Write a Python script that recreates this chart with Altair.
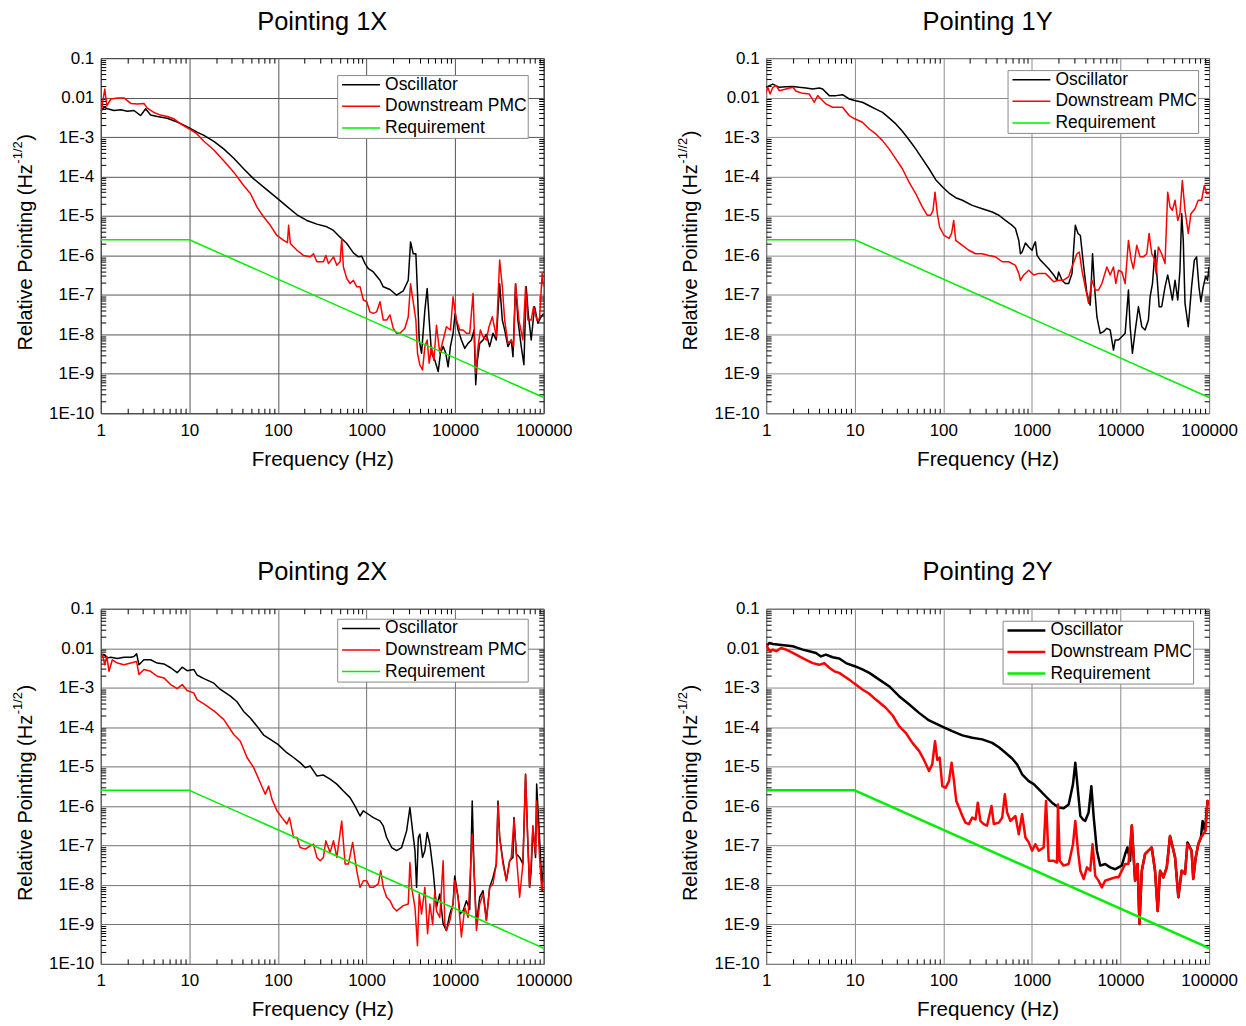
import altair as alt
import pandas as pd

FONT = "Liberation Sans"
SERIES = ["Oscillator", "Downstream PMC", "Requirement"]
COLORS = ["#000000", "#ff0000", "#00ee00"]

# ---------------- data (frequency in Hz, relative pointing in Hz^-1/2) ----------------
p1x_osc_f = [1.0, 1.09, 1.19, 1.41, 1.68, 2.0, 2.37, 2.82, 3.21, 3.65, 4.34, 5.63, 7.29, 8.67, 10, 12.2, 14.6, 18.9, 24.4, 31.7, 41.0, 53.2, 69.0, 100, 126, 164, 212, 275, 356, 424, 503, 598, 711, 809, 883, 962, 1049, 1194, 1419, 1546, 1840, 2186, 2600, 2958, 3141, 3365, 3606, 3764, 3933, 4180, 4557, 4838, 5097, 5415, 5905, 6440, 6833, 7327, 7852, 8334, 8850, 9484, 10000, 10810, 11780, 12850, 14000, 15270, 16370, 17090, 17690, 18950, 20660, 22540, 24550, 26770, 29180, 31830, 34110, 36250, 39500, 43070, 44990, 48140, 51150, 55800, 59790, 63480, 66880, 72270, 78880, 85960, 93700, 100000]
p1x_osc_v = [4.5e-3, 5.7e-3, 5.2e-3, 4.7e-3, 4.9e-3, 4.5e-3, 4.7e-3, 3.5e-3, 5.2e-3, 3.6e-3, 3.3e-3, 3.0e-3, 2.4e-3, 2.0e-3, 1.7e-3, 1.33e-3, 1.1e-3, 7.8e-4, 5.0e-4, 2.9e-4, 1.57e-4, 8.7e-5, 5.4e-5, 2.7e-5, 1.75e-5, 1.07e-5, 7.7e-6, 6.2e-6, 5.3e-6, 4.3e-6, 2.9e-6, 2.0e-6, 1.16e-6, 9.2e-7, 9.5e-7, 6.2e-7, 4.6e-7, 3.8e-7, 2.35e-7, 1.6e-7, 1.37e-7, 9.8e-8, 1.26e-7, 2.35e-7, 2.2e-6, 1.1e-6, 1.1e-6, 1.1e-7, 7.2e-9, 3.3e-9, 4.1e-8, 1.45e-7, 2.3e-8, 3.3e-9, 2.2e-9, 1.14e-9, 3.3e-9, 4.9e-9, 3.3e-9, 1.5e-9, 4.9e-9, 1.06e-8, 3.4e-8, 1.3e-8, 7.2e-9, 4.4e-9, 5.9e-9, 7.2e-9, 1.3e-8, 5.3e-10, 1.85e-9, 5.9e-9, 7.2e-9, 1.0e-8, 4.9e-9, 1.06e-8, 7.2e-9, 1.9e-7, 2.3e-8, 1.3e-8, 4.9e-9, 7.2e-9, 2.7e-9, 1.9e-7, 2.3e-8, 4.9e-9, 1.7e-9, 1.6e-7, 3.4e-8, 7.2e-9, 5.0e-8, 1.9e-8, 2.8e-8, 3.4e-8]

p1x_pmc_f = [1.0, 1.044, 1.11, 1.17, 1.30, 1.54, 1.83, 2.18, 2.59, 3.07, 3.35, 3.98, 4.73, 5.63, 6.69, 7.96, 10, 12.2, 14.6, 18.9, 24.4, 31.7, 41.0, 48.8, 58.0, 69.0, 82.0, 97.4, 116, 128, 132, 138, 164, 194, 231, 252, 275, 326, 347, 372, 424, 462, 503, 525, 548, 598, 652, 711, 775, 845, 921, 1005, 1094, 1194, 1300, 1419, 1546, 1687, 1840, 2004, 2186, 2383, 2712, 2958, 3141, 3365, 3606, 3764, 4000, 4287, 4557, 4838, 5097, 5415, 5755, 6166, 6715, 7327, 7980, 8850, 9484, 10350, 11290, 12300, 13420, 14620, 15950, 17090, 18150, 19280, 20660, 22540, 24150, 26310, 29180, 31830, 34110, 36250, 39500, 43070, 45730, 48140, 52510, 58240, 62420, 66300, 72270, 76850, 83780, 89740, 96150, 100000]
p1x_pmc_v = [3.5e-3, 6.9e-3, 1.65e-2, 6.2e-3, 9.2e-3, 9.8e-3, 9.8e-3, 7.1e-3, 6.9e-3, 7.1e-3, 5.4e-3, 4.2e-3, 3.6e-3, 3.3e-3, 2.9e-3, 2.15e-3, 1.6e-3, 1.2e-3, 7.8e-4, 4.7e-4, 2.5e-4, 1.29e-4, 5.9e-5, 3.7e-5, 1.68e-5, 9.4e-6, 5.8e-6, 3.2e-6, 2.4e-6, 2.1e-6, 5.8e-6, 2.0e-6, 1.35e-6, 1.0e-6, 9.2e-7, 1.1e-6, 6.9e-7, 6.9e-7, 1.0e-6, 6.2e-7, 9.2e-7, 5.6e-7, 6.9e-7, 2.7e-6, 5.1e-7, 2.6e-7, 1.94e-7, 2.35e-7, 1.6e-7, 1.6e-7, 7.4e-8, 6.7e-8, 3.7e-8, 3.4e-8, 3.7e-8, 6.7e-8, 2.3e-8, 2.3e-8, 3.1e-8, 1.42e-8, 1.06e-8, 1.06e-8, 1.42e-8, 2.8e-8, 1.9e-7, 6.7e-8, 2.3e-8, 3.3e-9, 1.67e-9, 1.25e-9, 4.9e-9, 7.2e-9, 1.85e-9, 4.9e-9, 2.2e-9, 1.7e-8, 3.3e-9, 7.2e-9, 1.56e-8, 1.29e-8, 8.9e-8, 2.3e-8, 1.29e-8, 1.29e-8, 1.06e-8, 1.06e-8, 1.08e-7, 1.03e-9, 4.9e-9, 1.29e-8, 8.7e-9, 7.2e-9, 1.56e-8, 2.8e-8, 8.7e-9, 7.6e-7, 1.6e-7, 2.3e-8, 5.9e-9, 7.2e-9, 4.9e-9, 1.9e-7, 2.3e-8, 7.2e-9, 1.6e-7, 2.3e-8, 2.3e-8, 5.0e-8, 2.3e-8, 2.5e-8, 3.5e-7, 1.6e-7]

p1y_osc_f = [1.0, 1.09, 1.19, 1.41, 1.68, 2.0, 2.37, 2.82, 3.35, 3.98, 4.34, 5.16, 6.14, 7.29, 8.67, 10, 12.2, 14.6, 17.3, 20.6, 24.4, 29.1, 34.5, 41.0, 48.8, 58.0, 69.0, 82.0, 100, 116, 138, 164, 212, 275, 356, 424, 503, 598, 652, 711, 742, 775, 845, 921, 1005, 1049, 1094, 1143, 1246, 1359, 1546, 1763, 1922, 2004, 2186, 2383, 2600, 2835, 3090, 3312, 3524, 3845, 4180, 4557, 4838, 5097, 5415, 5905, 6440, 7015, 7650, 8334, 8720, 9484, 10350, 11290, 12300, 12850, 13640, 14620, 15950, 17400, 18950, 20660, 21600, 22960, 24550, 25700, 27320, 29180, 31830, 34110, 36250, 38540, 41320, 44290, 46900, 49090, 51150, 53500, 58240, 63480, 68200, 72270, 76850, 80900, 85960, 91300, 96150, 100000]
p1y_osc_v = [1.82e-2, 2.0e-2, 2.2e-2, 1.82e-2, 1.88e-2, 1.92e-2, 1.82e-2, 1.75e-2, 1.65e-2, 1.75e-2, 1.65e-2, 1.12e-2, 1.12e-2, 1.18e-2, 9.2e-3, 8.4e-3, 7.6e-3, 6.2e-3, 5.1e-3, 4.2e-3, 3.05e-3, 2.15e-3, 1.4e-3, 8.5e-4, 5.0e-4, 2.8e-4, 1.57e-4, 8.3e-5, 5.2e-5, 3.8e-5, 2.9e-5, 2.5e-5, 1.85e-5, 1.53e-5, 1.26e-5, 1.04e-5, 7.7e-6, 5.8e-6, 4.8e-6, 2.4e-6, 1.1e-6, 1.22e-6, 2.07e-6, 1.64e-6, 1.35e-6, 1.8e-6, 2.2e-6, 1.0e-6, 7.6e-7, 6.2e-7, 4.6e-7, 3.2e-7, 2.35e-7, 3.8e-7, 2.35e-7, 1.94e-7, 1.94e-7, 3.5e-7, 5.8e-6, 3.6e-6, 3.2e-6, 5.1e-7, 1.08e-7, 5.5e-8, 1.1e-6, 1.6e-7, 2.8e-8, 1.06e-8, 1.17e-8, 1.42e-8, 1.29e-8, 4.0e-9, 7.2e-9, 7.2e-9, 8.7e-9, 1.06e-8, 1.32e-7, 1.56e-8, 3.3e-9, 1.17e-8, 5.0e-8, 1.56e-8, 1.29e-8, 2.3e-8, 8.9e-8, 1.94e-7, 1.35e-6, 3.5e-7, 5.0e-8, 5.0e-8, 1.6e-7, 3.2e-7, 1.6e-7, 7.4e-8, 2.35e-7, 7.4e-8, 4.2e-7, 1.14e-5, 2.4e-6, 6.1e-8, 1.56e-8, 1.6e-7, 7.6e-7, 9.2e-7, 1.6e-7, 6.7e-8, 1.6e-7, 2.9e-7, 2.35e-7, 5.1e-7]

p1y_pmc_f = [1.0, 1.044, 1.11, 1.19, 1.30, 1.41, 1.68, 2.0, 2.18, 2.59, 3.07, 3.50, 3.82, 4.16, 4.73, 5.63, 7.29, 8.67, 10, 12.2, 14.6, 17.3, 20.6, 24.4, 29.1, 34.5, 41.0, 48.8, 58.0, 66.0, 72.0, 76.5, 80.6, 85.5, 90.9, 102, 116, 124, 131, 138, 164, 194, 231, 275, 326, 388, 462, 548, 652, 711, 742, 809, 921, 1049, 1194, 1419, 1546, 1763, 2004, 2280, 2600, 2835, 3222, 3427, 3672, 4000, 4365, 4757, 5190, 5650, 6166, 7015, 7650, 8334, 8850, 9484, 10350, 11290, 12300, 13200, 14000, 15270, 16640, 18150, 19780, 21040, 22540, 24150, 25200, 26770, 29180, 31830, 34110, 36250, 38540, 41320, 44290, 46900, 49900, 53500, 58240, 62420, 69300, 75500, 82400, 88300, 93700, 100000]
p1y_pmc_v = [1.36e-2, 1.82e-2, 1.23e-2, 1.82e-2, 2.0e-2, 1.49e-2, 1.65e-2, 1.82e-2, 1.44e-2, 1.28e-2, 1.23e-2, 7.6e-3, 1.12e-2, 9.2e-3, 6.9e-3, 5.7e-3, 5.7e-3, 3.5e-3, 2.9e-3, 2.37e-3, 1.6e-3, 1.2e-3, 8.1e-4, 5.0e-4, 2.8e-4, 1.57e-4, 7.2e-5, 3.7e-5, 1.68e-5, 1.04e-5, 1.04e-5, 1.39e-5, 4.0e-5, 1.14e-5, 5.2e-6, 3.2e-6, 2.7e-6, 3.6e-6, 7.7e-6, 2.4e-6, 1.8e-6, 1.35e-6, 1.1e-6, 1.1e-6, 1.0e-6, 9.2e-7, 6.9e-7, 6.9e-7, 5.6e-7, 3.5e-7, 2.35e-7, 3.2e-7, 4.2e-7, 3.2e-7, 3.5e-7, 3.5e-7, 2.9e-7, 2.14e-7, 2.35e-7, 2.35e-7, 2.9e-7, 5.1e-7, 1.1e-6, 1.22e-6, 4.2e-7, 1.6e-7, 6.1e-8, 2.35e-7, 1.32e-7, 1.32e-7, 1.94e-7, 5.1e-7, 3.2e-7, 5.1e-7, 1.94e-7, 4.2e-7, 3.8e-7, 1.94e-7, 2.4e-6, 7.6e-7, 4.6e-7, 1.8e-6, 9.2e-7, 9.2e-7, 1.1e-6, 3.6e-6, 1.1e-6, 8.3e-7, 3.5e-7, 1.64e-6, 1.1e-6, 6.2e-7, 4.0e-5, 1.68e-5, 1.39e-5, 2.5e-5, 7.7e-6, 1.14e-5, 7.9e-5, 1.39e-5, 3.6e-6, 1.14e-5, 1.53e-5, 2.5e-5, 2.5e-5, 5.9e-5, 3.7e-5, 3.7e-5]

p2x_osc_f = [1.0, 1.09, 1.19, 1.30, 1.54, 1.83, 2.18, 2.37, 2.54, 2.70, 3.07, 3.65, 4.34, 5.16, 6.14, 7.29, 8.3, 9.43, 11.2, 12.2, 14.6, 18.9, 22.4, 29.1, 34.5, 41.0, 48.8, 58.0, 69.0, 82.0, 100, 126, 150, 178, 204, 231, 275, 326, 388, 462, 548, 652, 742, 845, 921, 1049, 1194, 1419, 1546, 1687, 1922, 2186, 2490, 2835, 3090, 3312, 3524, 3672, 3845, 4000, 4287, 4557, 4838, 5190, 5650, 6166, 6715, 7327, 7980, 8720, 9484, 9900, 10810, 11350, 12300, 13420, 14620, 15600, 16370, 17400, 18950, 20660, 22540, 24550, 26770, 29180, 30500, 31830, 34700, 37900, 41320, 44990, 46200, 49090, 53500, 58240, 62420, 66300, 69300, 72270, 75500, 80900, 83300, 89740, 96150, 100000]
p2x_osc_v = [6.9e-3, 6.9e-3, 5.7e-3, 5.9e-3, 5.5e-3, 5.9e-3, 5.9e-3, 6.2e-3, 7.2e-3, 3.8e-3, 5.1e-3, 5.1e-3, 4.2e-3, 4.0e-3, 3.2e-3, 2.4e-3, 3.3e-3, 2.7e-3, 2.9e-3, 2.1e-3, 1.7e-3, 1.3e-3, 9.0e-4, 6.1e-4, 4.4e-4, 2.5e-4, 1.7e-4, 1.06e-4, 6.3e-5, 4.9e-5, 3.65e-5, 2.25e-5, 1.7e-5, 1.26e-5, 9.4e-6, 1.04e-5, 5.8e-6, 6.1e-6, 4.8e-6, 3.6e-6, 2.4e-6, 1.64e-6, 1.0e-6, 5.6e-7, 7.6e-7, 6.2e-7, 5.1e-7, 4.2e-7, 3.15e-7, 1.6e-7, 8.9e-8, 7.4e-8, 8.9e-8, 2.35e-7, 9.2e-7, 2.35e-7, 7.4e-8, 8.7e-9, 1.6e-7, 1.94e-7, 5.0e-8, 7.4e-8, 2.14e-7, 1.08e-7, 2.3e-8, 2.7e-9, 5.9e-9, 1.03e-9, 7.0e-10, 1.85e-9, 3.3e-9, 1.7e-8, 4.9e-9, 1.85e-9, 2.2e-9, 4.0e-9, 2.4e-9, 1.35e-6, 2.3e-8, 1.03e-9, 4.9e-9, 7.2e-9, 1.3e-9, 8.7e-9, 1.56e-8, 3.4e-8, 1.35e-6, 1.6e-7, 4.1e-8, 1.29e-8, 4.1e-8, 5.0e-8, 5.1e-7, 6.1e-8, 5.0e-8, 3.4e-8, 6.4e-6, 1.08e-7, 8.7e-9, 2.3e-8, 2.9e-7, 5.0e-8, 3.6e-6, 1.6e-7, 7.2e-9, 5.0e-8]

p2x_pmc_f = [1.0, 1.044, 1.11, 1.17, 1.24, 1.35, 1.54, 1.83, 2.18, 2.54, 2.70, 3.07, 3.65, 4.34, 5.16, 6.14, 7.29, 8.3, 9.43, 11.2, 12.2, 14.6, 18.9, 24.4, 31.7, 37.6, 44.8, 53.2, 63.2, 71.9, 78.6, 85.5, 97.4, 111, 126, 135, 150, 164, 178, 204, 231, 252, 275, 300, 326, 347, 388, 424, 462, 525, 573, 625, 697, 775, 845, 921, 1005, 1094, 1194, 1359, 1445, 1546, 1687, 1840, 2004, 2186, 2600, 2958, 3090, 3230, 3524, 3760, 3933, 4180, 4557, 4890, 5190, 5580, 5905, 6166, 6715, 7327, 7650, 7980, 8720, 9484, 9900, 10810, 11780, 12850, 14000, 15600, 16370, 17400, 18950, 20660, 22540, 24550, 26770, 29180, 30500, 31830, 34700, 37900, 41320, 43070, 46200, 49090, 53500, 58240, 62420, 66300, 69300, 72270, 75500, 80900, 83300, 89740, 95000, 100000]
p2x_pmc_v = [5.7e-3, 6.9e-3, 3.8e-3, 6.2e-3, 2.6e-3, 5.1e-3, 4.2e-3, 3.8e-3, 4.2e-3, 4.6e-3, 2.15e-3, 2.9e-3, 2.6e-3, 1.95e-3, 1.77e-3, 1.2e-3, 9.5e-4, 1.2e-3, 8.5e-4, 7.4e-4, 5.0e-4, 3.9e-4, 2.6e-4, 1.57e-4, 6.5e-5, 4.4e-5, 1.7e-5, 9.4e-6, 3.9e-6, 2.0e-6, 3.2e-6, 1.5e-6, 7.6e-7, 5.1e-7, 3.5e-7, 5.1e-7, 1.6e-7, 1.6e-7, 8.9e-8, 8.1e-8, 9.8e-8, 1.08e-7, 5.0e-8, 4.1e-8, 5.0e-8, 1.32e-7, 6.7e-8, 1.32e-7, 5.0e-8, 4.2e-7, 3.4e-8, 3.4e-8, 1.2e-7, 2.3e-8, 8.7e-9, 1.28e-8, 1.28e-8, 8.7e-9, 8.7e-9, 1.06e-8, 2.3e-8, 8.7e-9, 4.9e-9, 4.0e-9, 2.7e-9, 2.2e-9, 3.0e-9, 3.3e-9, 3.7e-8, 8.7e-9, 2.7e-9, 2.9e-10, 5.9e-9, 1.85e-9, 8.7e-9, 5.8e-10, 3.3e-9, 1.0e-9, 7.2e-9, 2.2e-9, 1.5e-9, 4.1e-8, 1.0e-9, 7.0e-10, 1.25e-9, 3.3e-9, 1.29e-8, 4.9e-9, 4.8e-10, 2.7e-9, 1.5e-9, 1.94e-7, 2.3e-8, 7.0e-10, 3.3e-9, 5.9e-9, 1.25e-9, 8.7e-9, 1.06e-8, 3.4e-8, 1.1e-6, 1.6e-7, 3.4e-8, 1.29e-8, 4.1e-8, 5.0e-8, 4.6e-7, 6.1e-8, 4.9e-9, 3.4e-8, 6.4e-6, 1.08e-7, 8.7e-9, 4.1e-8, 3.2e-7, 6.1e-8, 1.35e-6, 5.0e-8, 7.2e-9, 1.56e-8]

p2y_osc_f = [1.0, 1.09, 1.19, 1.41, 1.68, 2.0, 2.18, 2.59, 3.07, 3.65, 4.16, 4.73, 5.63, 6.69, 7.96, 10, 12.2, 14.6, 18.9, 24.4, 31.7, 41.0, 53.2, 69.0, 100, 126, 164, 212, 275, 356, 424, 503, 598, 680, 775, 921, 1049, 1194, 1419, 1687, 2004, 2283, 2600, 2910, 3090, 3312, 3524, 3760, 4000, 4365, 4690, 4990, 5415, 5905, 6715, 7650, 8720, 9484, 10350, 11290, 11980, 12850, 13420, 14620, 15600, 16370, 17400, 18950, 20660, 22540, 24550, 26310, 28000, 30500, 33300, 36250, 41320, 44990, 49090, 53500, 57000, 63480, 66300, 70700, 75500, 80900, 84500, 89740, 96150, 100000]
p2y_osc_v = [1.12e-2, 1.36e-2, 1.28e-2, 1.23e-2, 1.18e-2, 1.12e-2, 1.05e-2, 9.2e-3, 8.4e-3, 7.6e-3, 6.2e-3, 6.9e-3, 5.9e-3, 5.5e-3, 4.2e-3, 3.5e-3, 2.9e-3, 2.37e-3, 1.6e-3, 1.09e-3, 6.1e-4, 3.8e-4, 2.3e-4, 1.48e-4, 1.0e-4, 7.9e-5, 6.2e-5, 5.4e-5, 4.9e-5, 4.0e-5, 3.1e-5, 2.25e-5, 1.6e-5, 1.14e-5, 6.4e-6, 4.3e-6, 3.6e-6, 2.7e-6, 1.8e-6, 1.22e-6, 9.2e-7, 8.8e-7, 1.1e-6, 3.6e-6, 1.26e-5, 2.4e-6, 5.6e-7, 4.6e-7, 4.2e-7, 6.9e-7, 3.2e-6, 5.1e-7, 7.4e-8, 3.1e-8, 3.4e-8, 2.8e-8, 2.5e-8, 2.8e-8, 3.1e-8, 6.1e-8, 8.9e-8, 4.1e-8, 3.2e-7, 1.29e-8, 3.4e-8, 1.03e-9, 2.3e-8, 6.1e-8, 7.4e-8, 8.9e-8, 2.3e-8, 2.2e-9, 2.3e-8, 1.56e-8, 2.8e-8, 1.75e-7, 5.0e-8, 4.9e-9, 2.3e-8, 1.9e-8, 1.2e-7, 7.4e-8, 1.42e-8, 5.0e-8, 1.08e-7, 1.6e-7, 4.2e-7, 2.35e-7, 1.35e-6, 1.1e-6]

p2y_pmc_f = [1.0, 1.044, 1.11, 1.19, 1.30, 1.47, 1.68, 2.0, 2.37, 2.82, 3.35, 3.98, 4.53, 5.16, 5.88, 6.69, 7.6, 8.67, 10, 12.2, 14.6, 17.3, 22.4, 26.7, 31.7, 37.6, 44.8, 53.2, 60.5, 69.0, 75.0, 80.6, 85.5, 90.9, 97.4, 106, 116, 124, 132, 140, 153, 164, 178, 194, 212, 231, 245, 262, 286, 312, 350, 372, 424, 462, 495, 525, 573, 652, 711, 775, 845, 921, 1005, 1094, 1194, 1359, 1445, 1546, 1763, 1922, 1970, 2060, 2280, 2600, 2910, 3090, 3312, 3524, 3845, 4180, 4557, 4838, 5190, 5650, 6166, 6715, 7650, 8720, 9484, 10350, 11290, 12300, 13420, 14620, 15600, 16370, 17400, 18950, 20660, 22540, 24550, 26310, 28000, 30500, 33300, 36250, 41320, 44990, 49090, 53500, 57000, 63480, 66300, 70700, 75500, 80900, 85960, 91300, 96150, 100000]
p2y_pmc_v = [1.23e-2, 1.01e-2, 8.4e-3, 9.2e-3, 8.4e-3, 1.01e-2, 9.2e-3, 7.6e-3, 6.2e-3, 5.1e-3, 4.2e-3, 3.8e-3, 4.2e-3, 3.2e-3, 2.6e-3, 2.37e-3, 1.95e-3, 1.6e-3, 1.25e-3, 9.0e-4, 7.0e-4, 5.0e-4, 3.1e-4, 2.0e-4, 1.06e-4, 7.2e-5, 4.0e-5, 2.5e-5, 1.48e-5, 7.7e-6, 1.14e-5, 4.4e-5, 1.48e-5, 1.7e-5, 3.2e-6, 2.9e-6, 4.3e-6, 1.26e-5, 4.3e-6, 1.35e-6, 8.3e-7, 5.6e-7, 3.8e-7, 3.5e-7, 5.1e-7, 4.6e-7, 1.22e-6, 4.2e-7, 3.5e-7, 3.2e-7, 1.0e-6, 3.5e-7, 3.8e-7, 5.1e-7, 2.0e-6, 6.9e-7, 4.2e-7, 5.6e-7, 1.94e-7, 6.2e-7, 1.6e-7, 1.2e-7, 7.4e-8, 1.08e-7, 7.4e-8, 8.9e-8, 1.35e-6, 4.1e-8, 4.1e-8, 3.7e-8, 1.1e-6, 4.1e-8, 3.1e-8, 3.4e-8, 1.08e-7, 4.2e-7, 7.4e-8, 2.3e-8, 1.42e-8, 2.8e-8, 2.3e-8, 1.08e-7, 1.7e-8, 1.29e-8, 8.7e-9, 1.29e-8, 1.42e-8, 1.56e-8, 1.56e-8, 2.3e-8, 3.4e-8, 3.4e-8, 3.2e-7, 1.29e-8, 3.4e-8, 1.03e-9, 2.3e-8, 6.1e-8, 7.4e-8, 8.9e-8, 2.3e-8, 2.2e-9, 2.3e-8, 1.56e-8, 2.8e-8, 1.75e-7, 5.0e-8, 4.9e-9, 2.3e-8, 1.9e-8, 1.08e-7, 7.4e-8, 1.42e-8, 5.0e-8, 1.08e-7, 1.6e-7, 1.94e-7, 2.35e-7, 1.35e-6, 1.1e-6]

# requirement line
req_f = [1, 10, 100000]
req_v = [2.5e-6, 2.5e-6, 2.5e-10]

# axis ticks
x_major = [1, 10, 100, 1000, 10000, 100000]
y_major = [1e-10, 1e-9, 1e-8, 1e-7, 1e-6, 1e-5, 1e-4, 1e-3, 1e-2, 1e-1]
x_minor = [m * 10 ** e for e in range(0, 5) for m in range(2, 10)]
y_minor = [m * 10.0 ** e for e in range(-10, -1) for m in range(2, 10)]

# ---------------- layout constants ----------------
W, H = 444, 356
TICK = 5

ARIAL = {"R": 722, "e": 556, "l": 222, "a": 556, "t": 278, "i": 222, "v": 500, " ": 278,
         "P": 667, "o": 556, "n": 556, "g": 556, "(": 333, "H": 722, "z": 500, "-": 333,
         "1": 556, "/": 278, "2": 556, ")": 333}


def text_w(s, size):
    return sum(ARIAL.get(c, 556) for c in s) * size / 1000.0


XS = alt.Scale(type="log", domain=[1, 100000], nice=False)
YS = alt.Scale(type="log", domain=[1e-10, 0.1], nice=False)

Y_LABEL = ("datum.value >= 0.005 ? format(datum.value, '.2~f') : "
           "'1E-' + format(round(-log(datum.value) / LN10), 'd')")


def one_text(s, size, x, y):
    return alt.Chart(pd.DataFrame({"t": [s]})).mark_text(
        angle=270, align="left", baseline="middle", fontSize=size, font=FONT, color="black"
    ).encode(text="t:N", x=alt.value(x), y=alt.value(y))


def panel(title, osc_f, osc_v, pmc_f, pmc_v, lw, lx, ly, sup, grid):
    osc = pd.DataFrame({"f": osc_f, "v": osc_v, "series": "Oscillator"})
    pmc = pd.DataFrame({"f": pmc_f, "v": pmc_v, "series": "Downstream PMC"})
    req = pd.DataFrame({"f": req_f, "v": req_v, "series": "Requirement"})
    df = pd.concat([osc, pmc, req], ignore_index=True)

    leg = dict(
        title=None, orient="none", legendX=lx, legendY=ly, direction="vertical",
        labelFont=FONT, labelFontSize=17.5, labelColor="black", labelLimit=0,
        symbolType="M-1,0H5", symbolSize=160, symbolOffset=1.5, labelOffset=28,
        strokeColor="#8a8a8a", fillColor="white", padding=1, rowPadding=2.6,
        cornerRadius=0,
    )

    lines = alt.Chart(df).mark_line(clip=True, strokeJoin="round").encode(
        x=alt.X("f:Q", scale=XS, title="Frequency (Hz)",
                axis=alt.Axis(values=x_major, format="d", ticks=False, domain=False,
                              grid=True, gridColor=grid, gridWidth=1,
                              labelFontSize=17, labelPadding=9, labelFlush=False,
                              labelOverlap=False, titleFontSize=20.7, titlePadding=11,
                              titleFontWeight="normal")),
        y=alt.Y("v:Q", scale=YS, title=None,
                axis=alt.Axis(values=y_major, labelExpr=Y_LABEL, ticks=False, domain=False,
                              grid=True, gridColor=grid, gridWidth=1,
                              labelFontSize=17, labelPadding=7, labelFlush=False,
                              labelOverlap=False)),
        color=alt.Color("series:N", scale=alt.Scale(domain=SERIES, range=COLORS),
                        legend=alt.Legend(**leg)),
        strokeWidth=alt.StrokeWidth("series:N",
                                    scale=alt.Scale(domain=SERIES, range=[lw, lw, 1.5]),
                                    legend=alt.Legend(**leg)),
    )

    frame = pd.DataFrame({"f": [1, 100000], "v": [1e-10, 0.1]})

    def tick_axis(orient, values):
        return alt.Axis(orient=orient, offset=-TICK, values=values, labels=False,
                        domain=False, grid=False, ticks=True, tickSize=TICK,
                        tickColor="black", tickWidth=1)

    ticks_a = alt.Chart(frame).mark_point(opacity=0).encode(
        x=alt.X("f:Q", scale=XS, title=None, axis=tick_axis("bottom", x_minor)),
        y=alt.Y("v:Q", scale=YS, title=None, axis=tick_axis("left", y_minor)),
    )
    ticks_b = alt.Chart(frame).mark_point(opacity=0).encode(
        x=alt.X("f:Q", scale=XS, title=None, axis=tick_axis("top", x_minor)),
        y=alt.Y("v:Q", scale=YS, title=None, axis=tick_axis("right", y_minor)),
    )

    # y-axis title with superscript, drawn bottom-to-top
    main = "Relative Pointing (Hz"
    y0 = 293
    xm = -75
    w_main = text_w(main, 20)
    w_sup = text_w(sup, 13)
    t_main = one_text(main, 20, xm, y0)
    t_sup = one_text(sup, 13, xm - 8, y0 - w_main - 0.5)
    t_close = one_text(")", 20, xm, y0 - w_main - w_sup - 1)

    return alt.layer(lines, ticks_a, ticks_b, t_main, t_sup, t_close).resolve_axis(
        x="independent", y="independent"
    ).properties(
        width=W, height=H,
        title=alt.TitleParams(title, fontSize=25.5, font=FONT, fontWeight="normal",
                              color="black", anchor="middle", frame="group", offset=14),
    )


p1 = panel("Pointing 1X", p1x_osc_f, p1x_osc_v, p1x_pmc_f, p1x_pmc_v, 1.5, 237, 17, "-1/2", "#555555")
p2 = panel("Pointing 1Y", p1y_osc_f, p1y_osc_v, p1y_pmc_f, p1y_pmc_v, 1.5, 242, 12, "-1//2", "#8c8c8c")
p3 = panel("Pointing 2X", p2x_osc_f, p2x_osc_v, p2x_pmc_f, p2x_pmc_v, 1.5, 237, 10, "-1/2", "#707070")
p4 = panel("Pointing 2Y", p2y_osc_f, p2y_osc_v, p2y_pmc_f, p2y_pmc_v, 2.5, 237, 12, "-1/2", "#8c8c8c")


def indep(c):
    return c.resolve_scale(color="independent", strokeWidth="independent").resolve_legend(
        color="independent", strokeWidth="independent")


top = indep(alt.hconcat(p1, p2, spacing=104))
bottom = indep(alt.hconcat(p3, p4, spacing=104))
chart = indep(alt.vconcat(top, bottom, spacing=90)).properties(
    padding={"left": 3, "top": 0, "right": 0, "bottom": 0},
    background="white",
).configure(font=FONT).configure_view(
    stroke="black", strokeWidth=1
).configure_axis(
    labelFont=FONT, titleFont=FONT, labelColor="black", titleColor="black"
)

chart.save("out.html", embed_options={"renderer": "svg", "actions": False})
